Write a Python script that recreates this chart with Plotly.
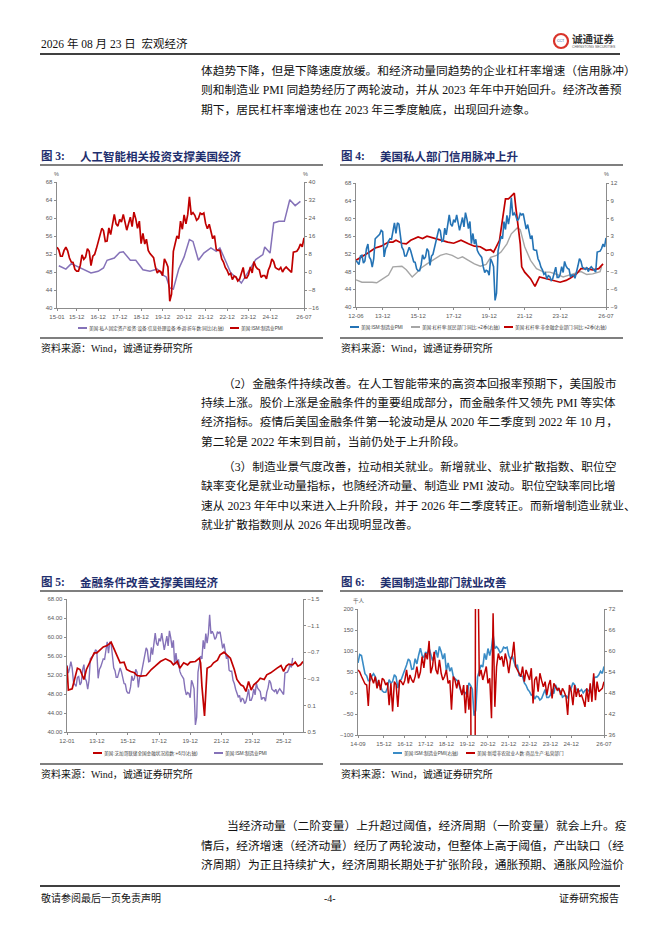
import pandas as pd
import plotly.graph_objects as go

W, H = 662, 936
OFF = 8  # the page body has an 8px margin, so shift everything back

# ---------------- data ----------------
# US ISM manufacturing PMI, monthly from 2012-01
pmi_values = [
    54.1, 52.4, 53.4, 54.8, 53.5, 50.5, 50.0, 49.6, 51.5, 51.7, 49.9, 50.4,
    53.1, 54.2, 51.3, 50.7, 49.0, 50.9, 55.4, 55.7, 56.2, 56.4, 57.3, 57.0,
    51.3, 53.2, 53.7, 54.9, 55.4, 55.3, 57.1, 59.0, 56.6, 59.0, 58.7, 55.5,
    53.5, 52.9, 51.5, 51.5, 52.8, 53.5, 52.7, 51.1, 50.2, 50.1, 48.6, 48.2,
    48.2, 49.5, 51.8, 50.8, 51.3, 53.2, 52.6, 49.4, 51.5, 51.9, 53.2, 54.7,
    56.0, 57.7, 57.2, 54.8, 54.9, 57.8, 56.3, 58.8, 60.8, 58.7, 58.2, 59.7,
    59.1, 60.8, 59.3, 57.3, 58.7, 60.2, 58.1, 61.3, 59.8, 57.7, 59.3, 54.3,
    56.6, 54.2, 55.3, 52.8, 52.1, 51.7, 51.2, 49.1, 47.8, 48.3, 48.1, 47.2,
    50.9, 50.1, 49.1, 41.5, 43.1, 52.6, 54.2, 56.0, 55.4, 59.3, 57.5, 60.7,
    58.7, 60.8, 64.7, 60.7, 61.2, 60.6, 59.5, 59.9, 61.1, 60.8, 61.1, 58.8,
    57.6, 58.6, 57.1, 55.4, 56.1, 53.0, 52.8, 52.8, 50.9, 50.2, 49.0, 48.4,
    47.4, 47.7, 46.3, 47.1, 46.9, 46.0, 46.4, 47.6, 49.0, 46.7, 46.7, 47.4,
    49.1, 47.8, 50.3, 49.2, 48.7, 48.5, 46.8, 47.2, 47.2, 46.5, 48.4, 49.3,
    50.9, 50.3, 49.0, 48.7, 48.5, 49.0, 48.0, 48.7, 49.1, 48.7, 48.2, 47.9,
    52.4, 52.6, 52.6, 53.2, 54.2, 53.6, 55.6,
]
pmi_dates = pd.date_range("2012-01-01", periods=len(pmi_values), freq="MS")
pmi = pd.Series(pmi_values, index=pmi_dates)

# fig 3: info-processing equipment investment yoy (%)
inv_dates = [
    "2015-02", "2015-06", "2015-09", "2015-12", "2016-03", "2016-08", "2016-12",
    "2017-03", "2017-05", "2017-09", "2017-12", "2018-02", "2018-06", "2018-09",
    "2019-01", "2019-05", "2019-09", "2019-12", "2020-02", "2020-04", "2020-06",
    "2020-09", "2020-12", "2021-03", "2021-05", "2021-08", "2021-11", "2022-03",
    "2022-06", "2022-08", "2022-11", "2023-02", "2023-06", "2023-08", "2023-12",
    "2024-04", "2024-08", "2024-09", "2024-12", "2025-02", "2025-05", "2025-08",
    "2025-11", "2026-02", "2026-05",
]
inv_values = [
    2.8, 1.3, 3.7, 2.5, 1.3, -0.4, 0.3, 1.8, 5.2, 6.2, 8.7, 9.0, 5.2, 5.2,
    1.0, 0.3, 1.3, -1.3, -2.2, -7.1, -7.6, 1.3, 6.7, 14.4, 13.6, 5.2, 8.4, 10.7,
    9.2, 10.7, 5.2, -0.4, -3.1, -4.9, 0.3, 5.5, 7.7, 11.1, 8.4, 21.8, 22.5, 22.5,
    32.1, 29.5, 31.4,
]

# fig 4: leverage ratio yoy, +2Q (%)
hh_dates = [
    "2012-06", "2012-10", "2013-05", "2013-08", "2013-11", "2014-04", "2014-07",
    "2014-10", "2015-01", "2015-04", "2015-08", "2015-11", "2016-02", "2016-06",
    "2016-11", "2017-03", "2017-07", "2017-11", "2018-03", "2018-06", "2018-10",
    "2019-02", "2019-06", "2019-10", "2020-01", "2020-05", "2020-08", "2020-12",
    "2021-03", "2021-07", "2021-09", "2021-12", "2022-04", "2022-08", "2023-01",
    "2023-05", "2023-10", "2024-02", "2024-06", "2024-11", "2025-02", "2025-06",
    "2025-10", "2026-03", "2026-04",
]
hh_values = [
    -4.4, -4.8, -4.8, -4.9, -4.4, -3.6, -2.2, -2.1, -2.1, -2.7, -3.9, -3.2,
    -2.4, -1.7, -0.8, -0.25, 0.03, -0.25, -0.8, -0.5, -1.1, -1.7, -2.1, -1.8,
    -0.6, -0.25, 0.3, 1.7, 3.4, 4.4, 4.1, 1.2, -1.1, -2.5, -3.1, -3.1, -3.5,
    -3.9, -3.6, -3.2, -3.0, -3.5, -3.4, -3.0, -2.2,
]
corp_dates = [
    "2012-06", "2012-10", "2013-02", "2013-07", "2013-11", "2014-04", "2014-07",
    "2014-09", "2015-01", "2015-04", "2015-07", "2015-12", "2016-03", "2016-06",
    "2016-11", "2017-03", "2017-08", "2017-12", "2018-05", "2018-10", "2019-02",
    "2019-06", "2019-10", "2020-01", "2020-03", "2020-07", "2020-09", "2020-11",
    "2021-01", "2021-04", "2021-05", "2021-06", "2021-09", "2021-10", "2021-12",
    "2022-04", "2022-07", "2022-10", "2023-03", "2023-07", "2023-12", "2024-04",
    "2024-07", "2024-11", "2025-02", "2025-06", "2025-10", "2026-02", "2026-05",
]
corp_values = [
    -1.1, -0.5, 0.15, 1.0, 1.3, 2.0, 2.0, 2.3, 1.8, 1.7, 2.3, 2.85, 2.6, 3.0,
    2.6, 2.3, 2.0, 1.8, 2.3, 1.7, 1.3, 1.2, 0.6, 0.7, 0.3, 2.3, 5.7, 9.3, 9.3,
    10.2, 10.3, 7.9, 1.7, -2.2, -3.1, -4.2, -5.5, -3.9, -4.2, -4.5, -4.8, -4.5,
    -4.1, -3.4, -2.5, -2.5, -2.7, -2.5, -1.7,
]

# fig 5: Chicago Fed NFCI, +6M (right axis, reversed)
nfci_dates = [
    "2012-01", "2012-02", "2012-05", "2012-07", "2012-09", "2012-11", "2013-02",
    "2013-04", "2013-07", "2013-10", "2013-12", "2014-03", "2014-05", "2014-08",
    "2014-11", "2015-01", "2015-04", "2015-06", "2015-09", "2015-11", "2016-02",
    "2016-05", "2016-07", "2016-10", "2017-02", "2017-06", "2017-09", "2018-01",
    "2018-05", "2018-09", "2018-11", "2019-02", "2019-04", "2019-07", "2019-10",
    "2019-12", "2020-04", "2020-07", "2020-08", "2020-09", "2020-11", "2020-12",
    "2021-01", "2021-04", "2021-06", "2021-09", "2021-11", "2022-02", "2022-04",
    "2022-07", "2022-10", "2022-12", "2023-03", "2023-05", "2023-07", "2023-09",
    "2023-11", "2024-01", "2024-04", "2024-06", "2024-09", "2024-11", "2025-02",
    "2025-05", "2025-07", "2025-10", "2025-12", "2026-02", "2026-04", "2026-07",
    "2026-09", "2026-11", "2027-01", "2027-03",
]
nfci_values = [
    -0.49, -0.13, -0.15, -0.29, -0.46, -0.44, -0.29, -0.44, -0.56, -0.69, -0.69,
    -0.74, -0.78, -0.80, -0.85, -0.76, -0.63, -0.54, -0.55, -0.44, -0.41, -0.39,
    -0.35, -0.34, -0.35, -0.44, -0.49, -0.56, -0.60, -0.56, -0.51, -0.56, -0.46,
    -0.54, -0.51, -0.55, -0.56, -0.61, -0.54, -0.19, 0.26, -0.14, -0.46, -0.49,
    -0.54, -0.58, -0.66, -0.70, -0.66, -0.61, -0.44, -0.29, -0.21, -0.19, -0.11,
    -0.26, -0.13, -0.21, -0.26, -0.31, -0.29, -0.36, -0.39, -0.44, -0.46, -0.50,
    -0.41, -0.49, -0.52, -0.51, -0.55, -0.49, -0.51, -0.56,
]

# fig 6: new nonfarm payrolls, goods-producing (thousand), monthly from 2014-09
jobs_values = [
    55, 50, 40, 30, 22, 19, -31, 47, 35, 23, 39, 11,
    31, 7, 35, 31, 19, 25, -29, 23, -44, 27, 20, -33,
    31, 27, 19, 30, 55, 23, 43, 31, 25, 39, 63, 35,
    50, 87, 60, 95, 80, 124, 47, 63, 98, 55, 45, 79,
    47, 31, 40, 55, 23, 30, -40, 39, 31, 11, 31, 15,
    -5, 19, -48, 19, -40, 15, -600, -1400, 600, 400, 40, 55,
    31, 47, 63, 23, 35, -60, 190, -33, 63, 94, 79, 87,
    63, 94, 75, 47, 79, 90, 122, 63, 55, 45, 39, 63,
    27, 55, 40, 31, 59, -25, 31, 39, 3, 47, 30, 15,
    27, -5, 19, 31, -13, 23, 15, 7, 12, -5, 11, 3,
    -9, -52, 19, 5, -29, 19, -9, 11, -9, -5, -17, -33,
    11, -21, 23, -21, 47, -17, 27, 3, 7, 11, 27,
]
jobs_dates = pd.date_range("2014-09-01", periods=len(jobs_values), freq="MS")

c3_ticks = ["15-01", "15-12", "16-12", "17-12", "18-12", "19-12", "20-12",
            "21-12", "22-12", "23-12", "24-12", "26-07"]
c4_ticks = ["12-06", "13-12", "15-12", "17-12", "19-12", "21-12", "23-12", "26-07"]
c5_ticks = ["12-01", "13-12", "15-12", "17-12", "19-12", "21-12", "23-12", "25-12"]
c6_ticks = ["14-09", "15-12", "16-12", "17-12", "18-12", "19-12", "20-12",
            "21-12", "22-12", "23-12", "24-12", "26-07"]
c5_right_ticks = [-1.5, -1.1, -0.7, -0.3, 0.1, 0.5]

# ---------------- styles ----------------
RED = "#C00000"
PURPLE = "#8572B8"
BLUE4 = "#2473B5"
BLUE6 = "#3A8CC6"
GRAY = "#A6A6A6"
NAVY = "#1F2F6E"
BODY = "Liberation Serif, Noto Sans CJK SC"
SANS = "Liberation Sans, Noto Sans CJK SC"
BODY_SIZE = 11.75

annotations = []
shapes = []


def px(x):
    return (x - OFF) / W


def py(y):
    return 1 - (y - OFF) / H


def text(x, y, s, size=BODY_SIZE, color="#111111", anchor="left", family=BODY):
    annotations.append(dict(
        x=px(x), y=py(y), xref="paper", yref="paper", text=s, showarrow=False,
        xanchor=anchor, yanchor="middle", borderpad=0,
        font=dict(size=size, color=color, family=family),
    ))


def hline(x0, x1, y, width=1.0, color="#000000"):
    shapes.append(dict(type="line", xref="paper", yref="paper", x0=px(x0), x1=px(x1),
                       y0=py(y), y1=py(y), line=dict(width=width, color=color)))


def legend_item(x, y, color, label):
    hline(x, x + 9, y, width=2, color=color)
    text(x + 10, y, label, size=4.6, color="#404040", family=SANS)


AX = dict(showline=True, linecolor="#8c8c8c", linewidth=0.8, ticks="outside",
          ticklen=2.5, tickwidth=0.6, tickcolor="#8c8c8c", showgrid=False,
          zeroline=False, fixedrange=True, automargin=False,
          tickfont=dict(size=6, color="#595959", family=SANS))


def xax(x0, x1, anchor, rng, labels):
    return dict(domain=[px(x0), px(x1)], anchor=anchor, type="date", range=rng,
                tickvals=[f"20{t[:2]}-{t[3:]}-01" for t in labels], ticktext=labels, **AX)


def yax(y_top, y_bot, anchor, rng, side, **kw):
    return dict(domain=[py(y_bot), py(y_top)], anchor=anchor, range=rng, side=side, **AX, **kw)


def yover(over, anchor, rng, side, **kw):
    return dict(overlaying=over, anchor=anchor, range=rng, side=side, **AX, **kw)


fig = go.Figure()


def line(x, y, xa, ya, color, width):
    fig.add_trace(go.Scatter(x=x, y=y, xaxis=xa, yaxis=ya, mode="lines", showlegend=False,
                             line=dict(color=color, width=width), hoverinfo="skip"))


# fig 3
p3 = pmi[pmi.index >= "2015-01-01"]
line(inv_dates, inv_values, "x", "y", PURPLE, 1.5)
line(p3.index, p3.values, "x", "y2", RED, 1.7)
# fig 4
p4 = pmi[pmi.index >= "2012-06-01"]
line(hh_dates, hh_values, "x2", "y3", GRAY, 1.4)
line(corp_dates, corp_values, "x2", "y3", RED, 1.7)
line(p4.index, p4.values, "x2", "y4", BLUE4, 1.6)
# fig 5
line(pmi.index, pmi.values, "x3", "y5", PURPLE, 1.4)
line(nfci_dates, nfci_values, "x3", "y6", RED, 1.7)
# fig 6
p6 = pmi[pmi.index >= "2014-09-01"]
line(p6.index, p6.values, "x4", "y7", BLUE6, 1.6)
line(jobs_dates, jobs_values, "x4", "y8", RED, 1.5)

# ---------------- page text ----------------
text(40, 44, "2026 年 08 月 23 日  宏观经济", size=11.5)
hline(40, 620, 54, width=1.6)
shapes.append(dict(type="circle", xref="paper", yref="paper", x0=px(554), x1=px(568),
                   y0=py(48), y1=py(34), line=dict(color="#D9342B", width=2.2), fillcolor="white"))
text(561, 41, "CCT", size=3.5, color="#1F4E9A", anchor="center", family=SANS)
text(571, 38.5, "<b>诚通证券</b>", size=10.5, color="#333333", family="Noto Sans CJK SC")
text(571, 47.5, "CHENGTONG SECURITIES", size=3.4, color="#555555", family=SANS)

para1 = [
    "体趋势下降，但是下降速度放缓。和经济动量同趋势的企业杠杆率增速（信用脉冲）",
    "则和制造业 PMI 同趋势经历了两轮波动，并从 2023 年年中开始回升。经济改善预",
    "期下，居民杠杆率增速也在 2023 年三季度触底，出现回升迹象。",
]
for i, s in enumerate(para1):
    text(200, 71 + 19.3 * i, s)

para2 = [
    "（2）金融条件持续改善。在人工智能带来的高资本回报率预期下，美国股市",
    "持续上涨。股价上涨是金融条件的重要组成部分，而金融条件又领先 PMI 等实体",
    "经济指标。疫情后美国金融条件第一轮波动是从 2020 年二季度到 2022 年 10 月，",
    "第二轮是 2022 年末到目前，当前仍处于上升阶段。",
]
for i, s in enumerate(para2):
    text(222 if i == 0 else 200, 384 + 19.2 * i, s)

para3 = [
    "（3）制造业景气度改善，拉动相关就业。新增就业、就业扩散指数、职位空",
    "缺率变化是就业动量指标，也随经济动量、制造业 PMI 波动。职位空缺率同比增",
    "速从 2023 年年中以来进入上升阶段，并于 2026 年二季度转正。而新增制造业就业、",
    "就业扩散指数则从 2026 年出现明显改善。",
]
for i, s in enumerate(para3):
    text(222 if i == 0 else 200, 467 + 19.3 * i, s)

para4 = [
    "当经济动量（二阶变量）上升超过阈值，经济周期（一阶变量）就会上升。疫",
    "情后，经济增速（经济动量）经历了两轮波动，但整体上高于阈值，产出缺口（经",
    "济周期）为正且持续扩大，经济周期长期处于扩张阶段，通胀预期、通胀风险溢价",
]
for i, s in enumerate(para4):
    text(226 if i == 0 else 200, 826 + 19.5 * i, s)

hline(40, 620, 886, width=1.3)
text(40, 898, "敬请参阅最后一页免责声明", size=10)
text(330, 898, "-4-", size=10, anchor="center")
text(620, 898, "证券研究报告", size=10, anchor="right")

# figure titles, rules, sources
for x0, y0, num, title in [(40, 156, "3", "人工智能相关投资支撑美国经济"),
                           (340, 156, "4", "美国私人部门信用脉冲上升"),
                           (40, 582, "5", "金融条件改善支撑美国经济"),
                           (340, 582, "6", "美国制造业部门就业改善")]:
    text(x0, y0, f"<b>图 {num}:</b>", size=11.5, color=NAVY)
    text(x0 + 39, y0, f"<b>{title}</b>", size=11.5, color=NAVY, family="Noto Sans CJK SC")
    hline(x0, x0 + 283, y0 + 9, width=1.1)
    hline(x0, x0 + 283, y0 + 182, width=1.1)
    text(x0, y0 + 192, "资料来源：Wind，诚通证券研究所", size=10)

# units
text(57, 174, "%", size=5.5, color="#595959", anchor="center", family=SANS)
text(305, 174, "%", size=5.5, color="#595959", anchor="center", family=SANS)
text(606, 174, "%", size=5.5, color="#595959", anchor="center", family=SANS)
text(359, 601, "千人", size=5.5, color="#595959", anchor="center", family=SANS)

# legends
legend_item(78, 328, PURPLE, "美国:私人固定资产投资:设备:信息处理设备:季调:折年数:同比(右轴)")
legend_item(230, 328, RED, "美国:ISM:制造业PMI")
legend_item(350, 327, BLUE4, "美国:ISM:制造业PMI")
legend_item(411, 327, GRAY, "美国:杠杆率:居民部门:同比:+2季(右轴)")
legend_item(504, 327, RED, "美国:杠杆率:非金融企业部门:同比:+2季(右轴)")
legend_item(93, 753, RED, "美国:芝加哥联储全国金融状况指数:+6月(右轴)")
legend_item(214, 753, PURPLE, "美国:ISM:制造业PMI")
legend_item(393, 753, BLUE6, "美国:ISM:制造业PMI(右轴)")
legend_item(466, 753, RED, "美国:新增非农就业人数:商品生产:私营部门")

fig.update_layout(
    width=W, height=H, autosize=False,
    margin=dict(l=0, r=0, t=0, b=0, pad=0, autoexpand=False),
    paper_bgcolor="white", plot_bgcolor="white", showlegend=False,
    annotations=annotations, shapes=shapes,
    xaxis=xax(57, 304, "y", ["2015-01-01", "2026-07-01"], c3_ticks),
    yaxis=yax(182, 308, "x", [-16, 40], "right", dtick=8),
    yaxis2=yover("y", "x", [40, 68], "left", dtick=4),
    xaxis2=xax(356, 606, "y3", ["2012-06-01", "2026-07-01"], c4_ticks),
    yaxis3=yax(183, 307, "x2", [-9, 12], "right", dtick=3),
    yaxis4=yover("y3", "x2", [40, 68], "left", dtick=4),
    xaxis3=xax(67, 303, "y5", ["2012-01-01", "2027-03-01"], c5_ticks),
    yaxis5=yax(599, 732, "x3", [40, 68], "left", dtick=4, tickformat=".2f"),
    yaxis6=yover("y5", "x3", [0.5, -1.5], "right", tickvals=c5_right_ticks),
    xaxis4=xax(358, 604, "y7", ["2014-09-01", "2026-07-01"], c6_ticks),
    yaxis7=yax(609, 735, "x4", [36, 72], "right", dtick=6),
    yaxis8=yover("y7", "x4", [-100, 200], "left", dtick=50),
)

fig.write_html("out.html")
